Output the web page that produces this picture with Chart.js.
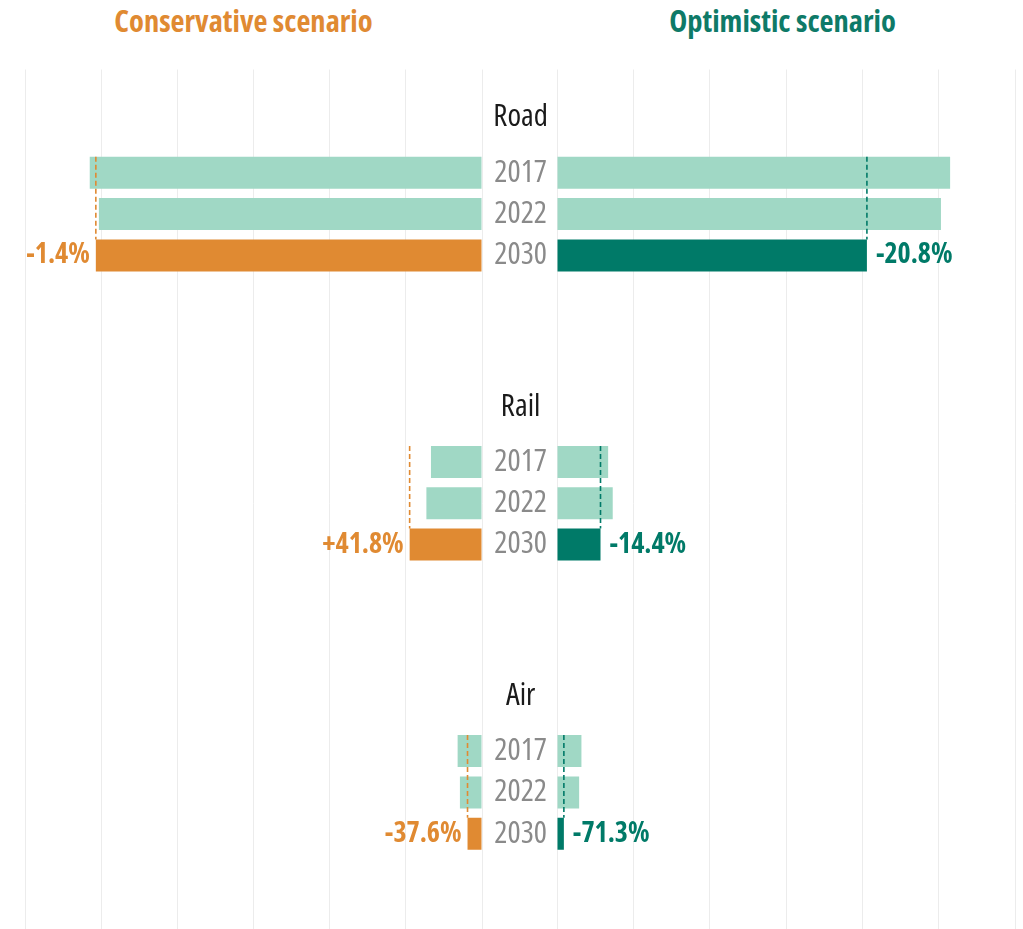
<!DOCTYPE html>
<html>
<head>
<meta charset="utf-8">
<script src="https://cdn.jsdelivr.net/npm/chart.js@4.4.1/dist/chart.umd.min.js"></script>
<style>
html, body { margin: 0; padding: 0; background: #fff; overflow: hidden; width: 1023px; height: 929px; }
.titulo { position: absolute; top: 0; font-family: 'Open Sans', sans-serif; font-weight: 700; font-stretch: 75%; font-size: 30.5px; line-height: 40px; text-align: center; white-space: nowrap; }
#tituloCons { left: 0; width: 487px; color: #e08a32; }
#tituloOpt { left: 557px; width: 451px; color: #0e7a68; }
canvas { position: absolute; top: 0; }
#canvasIzq { left: 0; }
#canvasDer { left: 482px; }
</style>
</head>
<body>
<div class="titulo" id="tituloCons">Conservative scenario</div>
<div class="titulo" id="tituloOpt">Optimistic scenario</div>
<canvas id="canvasIzq" width="490" height="937"></canvas>
<canvas id="canvasDer" width="541" height="937"></canvas>
<script>
// datos
const groups = ['Road', 'Rail', 'Air'];
const years = ['2017', '2022', '2030'];
const base2017 = [5.15, 0.67, 0.32];
const base2022 = [5.03, 0.73, 0.29];
const conservative2030 = [5.07, 0.95, 0.19];
const optimistic2030 = [4.06, 0.57, 0.09];
const conservativeChange = ['-1.4%', '+41.8%', '-37.6%'];
const optimisticChange = ['-20.8%', '-14.4%', '-71.3%'];

const naranja = '#e08a32';
const verdeOscuro = '#007a68';
const verdeClaro = '#a0d8c5';

// 7 filas por grupo: vacia, nombre, 3 años, 2 vacias
const filas = [];
groups.forEach((g, i) => {
    filas.push({ label: '' });
    filas.push({ label: [g, ''], tipo: 'grupo' });
    years.forEach((y, j) => filas.push({ label: y, tipo: 'anio', grupo: i, anio: j }));
    filas.push({ label: '' });
    filas.push({ label: '' });
});
const etiquetas = filas.map(f => f.label);

function indiceFila(grupo, anio) {
    return filas.findIndex(f => f.tipo === 'anio' && f.grupo === grupo && f.anio === anio);
}

function valores(final) {
    const series = [base2017, base2022, final];
    return filas.map(f => f.tipo === 'anio' ? series[f.anio][f.grupo] : null);
}

const marcasCambio = {
    id: 'marcasCambio',
    afterDatasetsDraw(chart, args, opts) {
        const ctx = chart.ctx;
        const meta = chart.getDatasetMeta(0);
        groups.forEach((g, i) => {
            const barra17 = meta.data[indiceFila(i, 0)];
            const barraFin = meta.data[indiceFila(i, 2)];
            const yArriba = barra17.y - barra17.height / 2;
            const yFin = barraFin.y - barraFin.height / 2;
            ctx.save();
            ctx.strokeStyle = opts.color;
            ctx.lineWidth = 1.6;
            ctx.setLineDash([5, 3]);
            ctx.beginPath();
            ctx.moveTo(barraFin.x, yArriba);
            ctx.lineTo(barraFin.x, yFin);
            ctx.stroke();
            ctx.setLineDash([]);
            ctx.fillStyle = opts.color;
            ctx.font = "condensed 700 28px 'Open Sans'";
            ctx.fontStretch = 'condensed';
            ctx.textBaseline = 'middle';
            const izq = opts.lado === 'izq';
            ctx.textAlign = izq ? 'right' : 'left';
            ctx.fillText(opts.textos[i], barraFin.x + (izq ? -6 : 9), barraFin.y);
            ctx.restore();
        });
    }
};

function crearGrafica(canvasId, final, colorFinal, textos, lado) {
    const izq = lado === 'izq';
    return new Chart(document.getElementById(canvasId), {
        type: 'bar',
        data: {
            labels: etiquetas,
            datasets: [{
                data: valores(final),
                backgroundColor: c => (filas[c.dataIndex].anio === 2 ? colorFinal : verdeClaro),
                borderWidth: 0,
                barPercentage: 0.775,
                categoryPercentage: 1
            }]
        },
        options: {
            indexAxis: 'y',
            responsive: false,
            animation: false,
            layout: { padding: { top: 69.5, bottom: 0, left: izq ? 25 : 0, right: 8 } },
            plugins: {
                legend: { display: false },
                tooltip: { enabled: false },
                marcasCambio: { color: colorFinal, textos: textos, lado: lado }
            },
            scales: {
                x: {
                    type: 'linear',
                    min: 0,
                    max: 6,
                    reverse: izq,
                    ticks: { display: false, stepSize: 1 },
                    grid: { color: '#ececec', drawTicks: false },
                    border: { display: false }
                },
                y: {
                    type: 'category',
                    display: !izq,
                    position: 'left',
                    grid: { display: false, drawTicks: false },
                    border: { display: false },
                    afterFit: s => {
                        if (izq) return;
                        s.width = 75;
                        s.paddingTop = 0;
                        s.paddingBottom = 0;
                    },
                    ticks: {
                        autoSkip: false,
                        crossAlign: 'center',
                        padding: 9,
                        color: c => (filas[c.index].tipo === 'grupo' ? '#1a1a1a' : '#8a8a8a'),
                        font: c => (filas[c.index].tipo === 'grupo'
                            ? { family: "'Open Sans'", size: 31, weight: '400 condensed', lineHeight: 0.9 }
                            : { family: "'Open Sans'", size: 31, weight: '400 condensed', lineHeight: 1.2 })
                    }
                }
            }
        },
        plugins: [marcasCambio]
    });
}

crearGrafica('canvasIzq', conservative2030, naranja, conservativeChange, 'izq');
crearGrafica('canvasDer', optimistic2030, verdeOscuro, optimisticChange, 'der');
</script>
</body>
</html>
